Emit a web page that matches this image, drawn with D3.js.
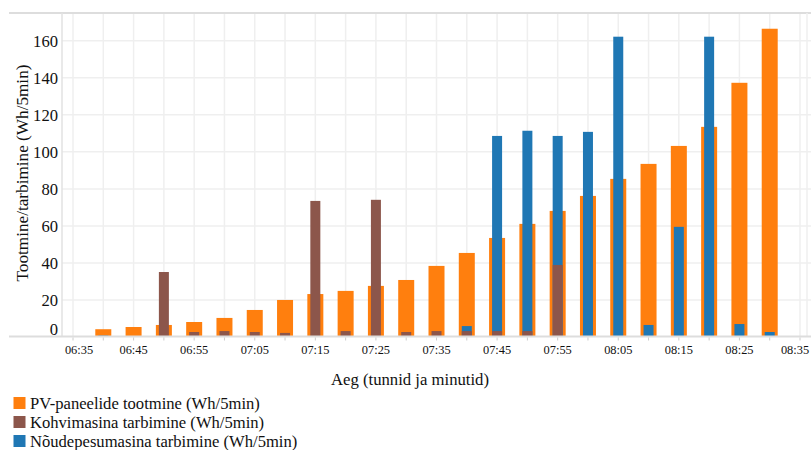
<!DOCTYPE html>
<html>
<head>
<meta charset="utf-8">
<script src="https://cdn.jsdelivr.net/npm/d3@7"></script>
<style>
  html, body { margin: 0; padding: 0; background: #fff; }
  svg { display: block; }
</style>
</head>
<body>
<svg id="chart" width="811" height="450"></svg>
<script>
// ---- data ----
const times = ["06:40","06:45","06:50","06:55","07:00","07:05","07:10","07:15","07:20","07:25","07:30","07:35",
               "07:40","07:45","07:50","07:55","08:00","08:05","08:10","08:15","08:20","08:25","08:30"];
const pvProduction = [4.2, 5.4, 6.5, 8.1, 10.3, 14.6, 20.0, 23.2, 24.9, 27.6, 30.8, 38.4,
                      45.4, 53.5, 61.1, 68.1, 76.2, 85.4, 93.5, 103.2, 113.5, 137.3, 166.5];
const coffeeConsumption = [0, 0.5, 35.1, 2.7, 3.2, 2.7, 2.2, 73.5, 3.2, 74.1, 2.7, 3.2,
                           3.2, 3.2, 3.2, 38.9, 0, 0, 0, 0, 0, 0, 0];
const dishwasherConsumption = [0.8, 0, 0, 0, 0, 0, 0, 0, 0, 0, 0, 0,
                               5.9, 108.6, 111.4, 108.6, 110.8, 162.2, 6.5, 59.5, 162.2, 7.0, 2.7];
const yTicks = [0, 20, 40, 60, 80, 100, 120, 140, 160];
const xTickLabels = ["06:35","06:45","06:55","07:05","07:15","07:25","07:35","07:45","07:55","08:05","08:15","08:25","08:35"];
const seriesNames = ["PV-paneelide tootmine (Wh/5min)", "Kohvimasina tarbimine (Wh/5min)", "Nõudepesumasina tarbimine (Wh/5min)"];
const colors = ["#ff7f0e", "#8c564b", "#1f77b4"];
const yTitle = "Tootmine/tarbimine (Wh/5min)";
const xTitle = "Aeg (tunnid ja minutid)";

(function () {
const FONT = "Liberation Serif";
const parse = s => { const [h, m] = s.split(":").map(Number); return new Date(2020, 0, 1, h, m); };
const addMin = (d, m) => new Date(d.getTime() + m * 60000);

const svg = d3.select("#chart");
const pLeft = 62, pRight = 807, pTop = 13, pBottom = 337;

const x = d3.scaleTime()
  .domain([addMin(parse("06:35"), -1.816), addMin(parse("08:35"), 1.155)])
  .range([pLeft, pRight]);
const y = d3.scaleLinear().domain([0, 175]).range([pBottom, pTop]);

const gridTimes = d3.timeMinute.every(5).range(parse("06:35"), addMin(parse("08:35"), 1));
svg.append("g").selectAll("line").data(gridTimes).join("line")
  .attr("x1", d => x(d)).attr("x2", d => x(d))
  .attr("y1", pTop).attr("y2", pBottom)
  .attr("stroke", "#efefef").attr("stroke-width", 1.5);
svg.append("g").selectAll("line").data(yTicks.filter(d => d > 0)).join("line")
  .attr("x1", pLeft).attr("x2", 811)
  .attr("y1", d => y(d)).attr("y2", d => y(d))
  .attr("stroke", "#efefef").attr("stroke-width", 1.5);

svg.append("line").attr("x1", 9).attr("x2", 811).attr("y1", pTop).attr("y2", pTop)
  .attr("stroke", "#dddddd").attr("stroke-width", 2);
svg.append("line").attr("x1", pLeft).attr("x2", pLeft).attr("y1", pTop).attr("y2", pBottom)
  .attr("stroke", "#e2e2e2").attr("stroke-width", 1.5);
svg.append("line").attr("x1", pRight).attr("x2", pRight).attr("y1", pTop).attr("y2", pBottom)
  .attr("stroke", "#efefef").attr("stroke-width", 1.5);

const rows = times.map((t, i) => ({ t: parse(t), pv: pvProduction[i], coffee: coffeeConsumption[i], dish: dishwasherConsumption[i] }));
function drawBars(key, width, color) {
  svg.append("g").selectAll("rect").data(rows.filter(d => d[key] > 0)).join("rect")
    .attr("x", d => x(d.t) - width / 2)
    .attr("width", width)
    .attr("y", d => y(d[key]))
    .attr("height", d => y(0) - y(d[key]))
    .attr("fill", color);
}
drawBars("pv", 16, colors[0]);
drawBars("dish", 10, colors[2]);
drawBars("coffee", 10, colors[1]);

svg.append("line").attr("x1", 9).attr("x2", 811).attr("y1", 336.5).attr("y2", 336.5)
  .attr("stroke", "#dddddd").attr("stroke-width", 2);

svg.append("g").selectAll("line").data(gridTimes).join("line")
  .attr("x1", d => x(d)).attr("x2", d => x(d))
  .attr("y1", 337.5).attr("y2", 340.5)
  .attr("stroke", "#cccccc").attr("stroke-width", 1);

function txt(parent, s, size) {
  return parent.append("text").style("font-family", FONT).attr("font-size", size).attr("fill", "#111").text(s);
}

const xLabelG = svg.append("g");
xTickLabels.forEach((lab) => {
  let cx = x(parse(lab));
  const w = 28;
  if (cx - w / 2 < 65) cx = 65 + w / 2;
  if (cx + w / 2 > 809) cx = 809 - w / 2;
  txt(xLabelG, lab, "12.4px").attr("x", cx).attr("y", 354).attr("text-anchor", "middle");
});

const yLabelG = svg.append("g");
yTicks.forEach(v => {
  const yy = v === 0 ? y(v) - 8 : y(v);
  txt(yLabelG, v, "16.6px").attr("x", 58).attr("y", yy).attr("dy", "0.35em").attr("text-anchor", "end");
});

txt(svg, yTitle, "17.2px").attr("transform", "translate(28,173) rotate(-90)").attr("text-anchor", "middle");
txt(svg, xTitle, "16.7px").attr("x", 410).attr("y", 385).attr("text-anchor", "middle");

const lg = svg.append("g");
seriesNames.forEach((name, i) => {
  const cy = 403 + i * 19;
  lg.append("rect").attr("x", 13.5).attr("y", cy - 6).attr("width", 12).attr("height", 12).attr("fill", colors[i]);
  txt(lg, name, "16.6px").attr("x", 30).attr("y", cy).attr("dy", "0.35em");
});
})();
</script>
</body>
</html>
